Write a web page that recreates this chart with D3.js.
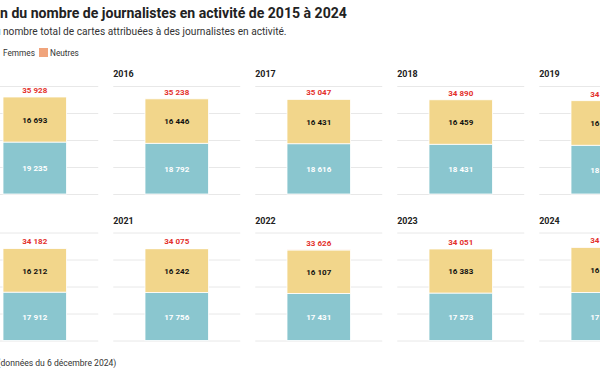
<!DOCTYPE html>
<html>
<head>
<meta charset="utf-8">
<script src="https://cdn.jsdelivr.net/npm/d3@7"></script>
<style>
  body { margin: 0; background: #fff; overflow: hidden; }
  svg { display: block; font-family: Roboto, "Noto Sans", sans-serif; }
</style>
</head>
<body>
<svg id="chart" width="600" height="372"></svg>
<script>
// data (2019 and 2024 partly hidden, estimated)
var years   = [2015, 2016, 2017, 2018, 2019, 2020, 2021, 2022, 2023, 2024];
var hommes  = [19235, 18792, 18616, 18431, 18060, 17912, 17756, 17431, 17573, 17800];
var femmes  = [16693, 16446, 16431, 16459, 16495, 16212, 16242, 16107, 16383, 16700];
var neutres = [0, 0, 0, 0, 0, 58, 77, 88, 95, 110];
var yTicks  = [0, 10000, 20000, 30000, 40000];
var series  = ["Hommes", "Femmes", "Neutres"];

var colors = { Hommes: "#8ac6cf", Femmes: "#f2d68b", Neutres: "#f0a47c" };
var fmt = function(v) { return d3.format(",")(v).replace(/,/g, " "); };

var svg = d3.select("#chart");

// the chart is wider than the window, its left part falls off screen
var panelW = 127, colStep = 142, left0 = -28.75;
var rowTop = [86, 232.5], plotH = 108;

function textWidth(str, size, weight) {
  var t = svg.append("text").attr("font-size", size).attr("font-weight", weight).text(str);
  var w = t.node().getComputedTextLength();
  t.remove();
  return w;
}

// font size that makes str about targetW wide
function sizeFor(str, weight, targetW) {
  return 10 * targetW / textWidth(str, 10, weight);
}

// puts a text so that the part after `hidden` starts at x
function cutText(g, hidden, shown, x, y, size, weight) {
  var shownW = textWidth(shown, size, weight);
  return g.append("text").attr("y", y)
    .attr("font-size", size).attr("font-weight", weight)
    .attr("text-anchor", "end").attr("x", x + shownW)
    .text(hidden + shown);
}

var titleShown = "n du nombre de journalistes en activité de 2015 à 2024";
var subShown = "nombre total de cartes attribuées à des journalistes en activité.";
var footShown = "données du 6 décembre 2024)";

var header = svg.append("g");
cutText(header, "Évolutio", titleShown, 0, 18, sizeFor(titleShown, 700, 347), 700).attr("fill", "#222");
cutText(header, "Répartition par genre du ", subShown, 3, 35, sizeFor(subShown, 400, 284), 400).attr("fill", "#333");

// legend
var legSize = sizeFor("Femmes", 400, 32);
var leg = svg.append("g").attr("font-size", legSize).attr("fill", "#333");
leg.append("text").attr("x", 3).attr("y", 56).text("Femmes");
leg.append("rect").attr("x", -9).attr("y", 48).attr("width", 9).attr("height", 9).attr("fill", colors.Femmes);
leg.append("text").attr("x", -13).attr("y", 56).attr("text-anchor", "end").text("Hommes");
leg.append("rect").attr("x", -56).attr("y", 48).attr("width", 9).attr("height", 9).attr("fill", colors.Hommes);
leg.append("rect").attr("x", 39).attr("y", 48).attr("width", 9).attr("height", 9).attr("fill", colors.Neutres);
leg.append("text").attr("x", 50).attr("y", 56).text("Neutres");

var yearSize = sizeFor("2016", 700, 20.5);
var valSize = sizeFor("16 693", 700, 25);

var y = d3.scaleLinear().domain([0, 40000]).range([plotH, 0]);
var x = d3.scaleBand().domain(["total"]).range([0, panelW]).paddingInner(0).paddingOuter(0.5);

var rows = years.map(function(yr, i) {
  return { year: yr, Hommes: hommes[i], Femmes: femmes[i], Neutres: neutres[i],
           total: hommes[i] + femmes[i] + neutres[i] };
});
var stack = d3.stack().keys(series)(rows);

years.forEach(function(yr, i) {
  var col = i % 5, row = Math.floor(i / 5);
  var g = svg.append("g")
    .attr("transform", "translate(" + (left0 + col * colStep) + "," + rowTop[row] + ")");

  g.append("text").attr("x", 0).attr("y", -9)
    .attr("font-size", yearSize).attr("font-weight", 700).attr("fill", "#222").text(yr);

  g.selectAll("line.grid").data(yTicks).enter().append("line")
    .attr("class", "grid")
    .attr("x1", 0).attr("x2", panelW)
    .attr("y1", function(d) { return Math.round(y(d)) + 0.5; })
    .attr("y2", function(d) { return Math.round(y(d)) + 0.5; })
    .attr("stroke", "#e8e8e8").attr("stroke-width", 1);

  stack.forEach(function(layer) {
    var s = layer[i];
    if (s[1] - s[0] <= 0) return;
    g.append("rect")
      .attr("x", x("total")).attr("width", x.bandwidth())
      .attr("y", y(s[1])).attr("height", y(s[0]) - y(s[1]))
      .attr("fill", colors[layer.key])
      .attr("stroke", "#fff").attr("stroke-width", 0.8);
  });

  var cx = x("total") + x.bandwidth() / 2;
  var labels = g.append("g").attr("text-anchor", "middle")
    .attr("font-size", valSize).attr("font-weight", 700);
  labels.append("text").attr("x", cx).attr("y", (y(0) + y(hommes[i])) / 2 + 3.3)
    .attr("fill", "#fff").text(fmt(hommes[i]));
  labels.append("text").attr("x", cx).attr("y", (y(hommes[i]) + y(hommes[i] + femmes[i])) / 2 + 3.3)
    .attr("fill", "#111").text(fmt(femmes[i]));
  labels.append("text").attr("x", cx).attr("y", y(rows[i].total) - 4)
    .attr("fill", "#e3302b").text(fmt(rows[i].total));
});

cutText(svg, "Source : CCIJP (", footShown, 0.5, 366, sizeFor(footShown, 400, 116), 400)
  .attr("fill", "#333");
</script>
</body>
</html>
